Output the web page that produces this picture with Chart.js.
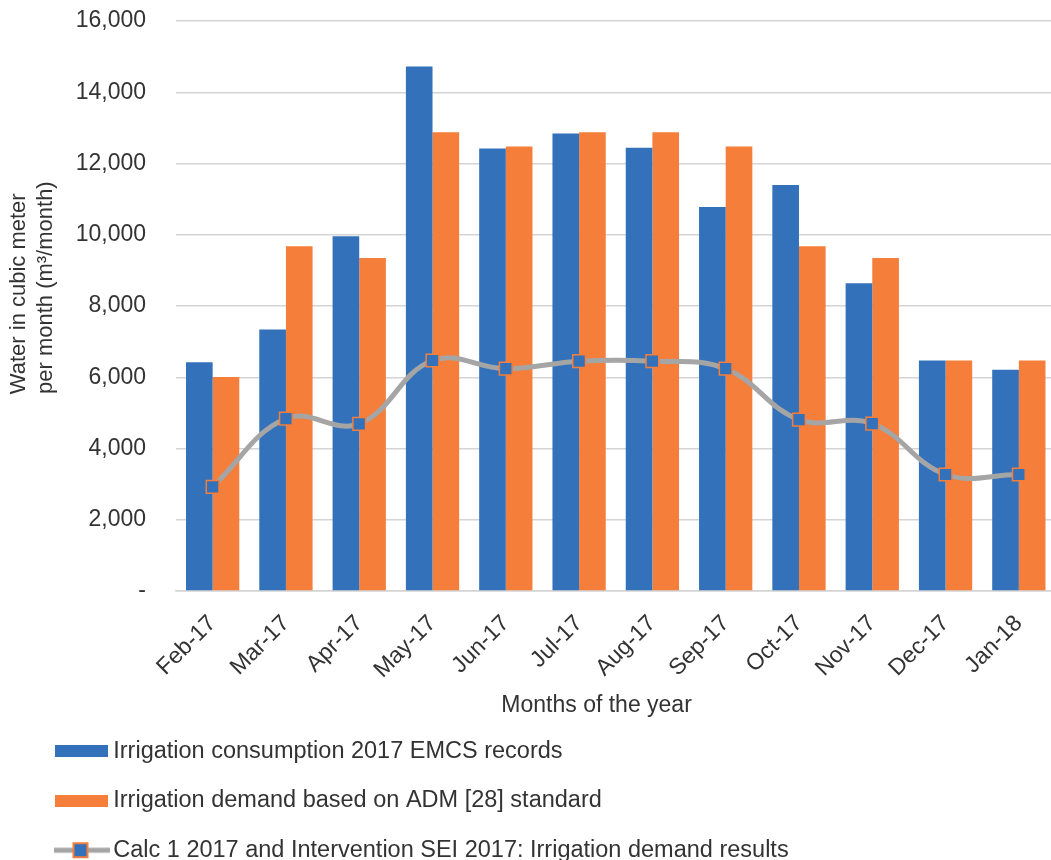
<!DOCTYPE html>
<html>
<head>
<meta charset="utf-8">
<script src="https://cdn.jsdelivr.net/npm/chart.js@4.4.1/dist/chart.umd.min.js"></script>
<style>
html,body{margin:0;padding:0;background:#ffffff;overflow:hidden;}
canvas{display:block;}
</style>
</head>
<body>
<canvas id="c" width="1066" height="860" style="width:1066px;height:860px"></canvas>
<script>
// ---- data ----
const months = ['Feb-17','Mar-17','Apr-17','May-17','Jun-17','Jul-17','Aug-17','Sep-17','Oct-17','Nov-17','Dec-17','Jan-18'];
const consumptionEMCS = [6420, 7340, 9960, 14720, 12420, 12840, 12440, 10780, 11400, 8640, 6470, 6210];
const demandADM = [6010, 9680, 9350, 12880, 12480, 12880, 12880, 12480, 9680, 9350, 6470, 6470];
const calcSEI = [2920, 4840, 4690, 6470, 6240, 6450, 6450, 6240, 4810, 4700, 3270, 3270];
const seriesNames = [
  'Irrigation consumption 2017 EMCS records',
  'Irrigation demand based on ADM [28] standard',
  'Calc 1 2017 and Intervention SEI 2017: Irrigation demand results'
];
const yMin = 0, yMax = 16000, yStep = 2000;
const xTitle = 'Months of the year      ';
const yTitle = ['    Water in cubic meter', '      per month (m\u00B3/month)'];

// ---- styles ----
const BLUE = '#3371ba';
const ORANGE = '#f47e3a';
const GRAY = '#a5a5a5';
const TEXT = '#333333';
const GRID = '#d4d4d4';
const NONE = 'rgba(0,0,0,0)';
const FONT = '"Liberation Sans", Arial, Helvetica, sans-serif';

function boxMarker(color) {
  const c = document.createElement('canvas');
  c.width = 53; c.height = 12;
  const g = c.getContext('2d');
  g.fillStyle = color; g.fillRect(0, 0, 53, 12);
  return c;
}
function lineMarker() {
  const c = document.createElement('canvas');
  c.width = 56; c.height = 18;
  const g = c.getContext('2d');
  g.strokeStyle = GRAY; g.lineWidth = 5;
  g.beginPath(); g.moveTo(0, 9); g.lineTo(56, 9); g.stroke();
  g.fillStyle = BLUE; g.fillRect(20, 2, 14, 14);
  g.strokeStyle = ORANGE; g.lineWidth = 2; g.strokeRect(20, 2, 14, 14);
  return c;
}
const legendMarkers = [boxMarker(BLUE), boxMarker(ORANGE), lineMarker()];

const legendPlace = {
  id: 'legendPlace',
  beforeDraw(chart) {
    const lg = chart.legend;
    if (!lg) return;
    lg.left = 35.5; lg.right = 1066; lg.top = 713.5; lg.bottom = 1000;
    lg.width = lg.right - lg.left; lg.height = lg.bottom - lg.top;
  }
};

new Chart(document.getElementById('c'), {
  data: {
    labels: months,
    datasets: [
      { type: 'bar', label: seriesNames[0], data: consumptionEMCS, backgroundColor: BLUE, order: 0 },
      { type: 'bar', label: seriesNames[1], data: demandADM, backgroundColor: ORANGE, order: 0 },
      { type: 'line', label: seriesNames[2], data: calcSEI, borderColor: GRAY, borderWidth: 5,
        tension: 0.4, pointStyle: 'rect', pointRadius: 9, pointHoverRadius: 9,
        pointBackgroundColor: BLUE, pointBorderColor: ORANGE, pointBorderWidth: 1.5,
        fill: false, order: -1 }
    ]
  },
  options: {
    responsive: false,
    animation: false,
    layout: { padding: { top: 21, left: 0, right: 0, bottom: 140 } },
    datasets: { bar: { categoryPercentage: 0.727, barPercentage: 1.0 } },
    scales: {
      x: {
        grid: { display: true, color: NONE, drawTicks: true, tickLength: 19, tickColor: NONE },
        border: { display: true, color: GRID, width: 1.5 },
        ticks: { autoSkip: false, minRotation: 45, maxRotation: 45, padding: 0, labelOffset: 0,
                 color: TEXT, font: { family: FONT, size: 23 } },
        title: { display: true, text: xTitle, color: TEXT, font: { family: FONT, size: 23 },
                 padding: { top: 0, bottom: 1 } },
        afterFit(scale) { scale.height = 129; }
      },
      y: {
        min: yMin, max: yMax,
        grid: { color: GRID, lineWidth: 1.5, drawTicks: true, tickLength: 30, tickColor: NONE },
        border: { display: false },
        ticks: { stepSize: yStep, padding: 0, color: TEXT, font: { family: FONT, size: 23 },
                 callback: (v) => v === 0 ? '-' : Number(v).toLocaleString('en-US') },
        title: { display: true, text: yTitle, color: TEXT, font: { family: FONT, size: 22, lineHeight: 1.25 },
                 padding: { top: 5, bottom: 0 } },
        afterFit(scale) { scale.width = 176; }
      }
    },
    plugins: {
      tooltip: { enabled: false },
      legend: {
        position: 'chartArea',
        align: 'start',
        labels: {
          usePointStyle: true,
          pointStyleWidth: 40,
          padding: 26,
          textAlign: 'left',
          color: TEXT,
          font: { family: FONT, size: 23.5 },
          generateLabels(chart) {
            return chart.data.datasets.map((ds, i) => ({
              text: ds.label,
              fillStyle: i === 2 ? GRAY : ds.backgroundColor,
              strokeStyle: i === 2 ? GRAY : ds.backgroundColor,
              lineWidth: 0,
              pointStyle: legendMarkers[i],
              hidden: false,
              datasetIndex: i,
              fontColor: TEXT
            }));
          }
        }
      }
    }
  },
  plugins: [legendPlace]
});
</script>
</body>
</html>
